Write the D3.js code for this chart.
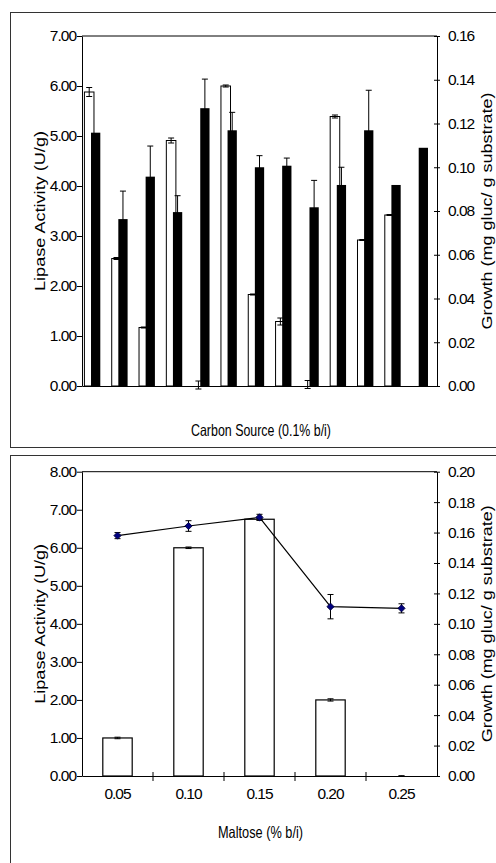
<!DOCTYPE html>
<html><head><meta charset="utf-8">
<script src="https://cdn.jsdelivr.net/npm/d3@7"></script>
<style>
html,body{margin:0;padding:0;background:#fff;}
svg text{font-family:"Liberation Sans",Arial,sans-serif;fill:#000;}
</style></head>
<body><svg id="c" width="496" height="863"></svg>
<script>
// ---------- DATA ----------
const carbonSources = ["S1","S2","S3","S4","S5","S6","S7","S8","S9","S10","S11","S12","S13"];
const lipaseCarbon = [5.88, 2.55, 1.17, 4.91, 0.02, 6.00, 1.83, 1.29, 0.03, 5.39, 2.92, 3.42, 0];
const lipaseCarbonErr = [0.09, 0.02, 0.01, 0.05, 0.08, 0.02, 0.01, 0.07, 0.08, 0.03, 0.01, 0.01, 0];
const growthCarbon = [0.1158, 0.0763, 0.0957, 0.0795, 0.1270, 0.1169, 0.1000, 0.1007, 0.0817, 0.0919, 0.1169, 0.0919, 0.1089];
const growthCarbonErr = [0, 0.0128, 0.0140, 0.0075, 0.0133, 0.0082, 0.0053, 0.0035, 0.0123, 0.0081, 0.0183, 0, 0];

const maltoseLevels = ["0.05","0.10","0.15","0.20","0.25"];
const lipaseMaltose = [1.00, 6.00, 6.75, 2.00, 0];
const lipaseMaltoseErr = [0.02, 0.02, 0.02, 0.03, 0.005];
const growthMaltose = [0.158, 0.1643, 0.170, 0.1113, 0.1102];
const growthMaltoseErr = [0.002, 0.0035, 0.002, 0.008, 0.003];

const leftTicksTop = [0,1,2,3,4,5,6,7];
const rightTicksTop = [0,0.02,0.04,0.06,0.08,0.10,0.12,0.14,0.16];
const leftTicksBottom = [0,1,2,3,4,5,6,7,8];
const rightTicksBottom = [0,0.02,0.04,0.06,0.08,0.10,0.12,0.14,0.16,0.18,0.20];

const yLeftLabel = "Lipase Activity (U/g)";
const yRightLabel = "Growth (mg gluc/ g substrate)";
const xLabelTop = "Carbon Source (0.1% b/i)";
const xLabelBottom = "Maltose (% b/i)";

// ---------- DRAW ----------
const svg = d3.select("#c");
const fmt2 = d3.format(".2f");

// panel frames
svg.append("rect").attr("x",10.5).attr("y",12.5).attr("width",500).attr("height",435)
  .attr("fill","none").attr("stroke","#333");
svg.append("rect").attr("x",10.5).attr("y",455.5).attr("width",500).attr("height",420)
  .attr("fill","none").attr("stroke","#333");

function errBar(g, x, y0, y1, cap, color){
  g.append("line").attr("x1",x).attr("x2",x).attr("y1",y0).attr("y2",y1).attr("stroke",color||"#000").attr("stroke-width",1);
  [y0,y1].forEach(y=>g.append("line").attr("x1",x-cap/2).attr("x2",x+cap/2).attr("y1",y).attr("y2",y).attr("stroke",color||"#000").attr("stroke-width",1));
}

function axes(g, yL, yR, leftTicks, rightTicks, L, R, T, B){
  g.append("line").attr("x1",L).attr("x2",R).attr("y1",T).attr("y2",T).attr("stroke","#000");
  const al = g.append("g").attr("transform",`translate(${L},0)`)
    .call(d3.axisLeft(yL).tickValues(leftTicks).tickFormat(fmt2).tickSize(5).tickSizeOuter(0).tickPadding(1));
  const ar = g.append("g").attr("transform",`translate(${R},0)`)
    .call(d3.axisRight(yR).tickValues(rightTicks).tickFormat(fmt2).tickSize(3).tickSizeOuter(0).tickPadding(8));
  ar.selectAll(".tick line").attr("x1",-3);
  [al,ar].forEach(a=>{
    a.select(".domain").attr("stroke","#000");
    a.selectAll(".tick line").attr("stroke","#000");
    a.selectAll("text").style("font-size","15.5px").style("letter-spacing","-1px")
      .style("font-family","'Liberation Sans',Arial,sans-serif").attr("fill","#000");
  });
  const cy = (T+B)/2;
  g.append("text").attr("transform",`translate(40,${cy}) rotate(-90)`).attr("text-anchor","middle")
    .attr("dy","0.35em").style("font-size","14.5px").attr("textLength",160).attr("lengthAdjust","spacingAndGlyphs")
    .text(yLeftLabel);
  g.append("text").attr("transform",`translate(486.5,${cy}) rotate(-90)`).attr("text-anchor","middle")
    .attr("dy","0.35em").style("font-size","14.5px").attr("textLength",237).attr("lengthAdjust","spacingAndGlyphs")
    .text(yRightLabel);
}

// ---------- TOP CHART ----------
{
  const L=82, R=437, T=36, B=386;
  const g = svg.append("g");
  const x = d3.scaleBand().domain(carbonSources).range([L,R]).padding(0);
  const yL = d3.scaleLinear().domain([0,7]).range([B,T]);
  const yR = d3.scaleLinear().domain([0,0.16]).range([B,T]);
  const bw = x.bandwidth();
  const wx = c => x(c) + bw*0.07, ww = bw*0.35;
  const bx = c => x(c) + bw*0.33, bwid = bw*0.34;

  g.selectAll(".wb").data(carbonSources).join("rect")
    .attr("x",d=>wx(d)+0.5).attr("width",ww)
    .attr("y",(d,i)=>yL(lipaseCarbon[i])).attr("height",(d,i)=>B-yL(lipaseCarbon[i]))
    .attr("fill","#fff").attr("stroke","#000").attr("stroke-width",1)
    .style("display",(d,i)=>lipaseCarbon[i]>0.05?null:"none");
  g.selectAll(".bb").data(carbonSources).join("rect")
    .attr("x",d=>bx(d)).attr("width",bwid)
    .attr("y",(d,i)=>yR(growthCarbon[i])).attr("height",(d,i)=>B-yR(growthCarbon[i]))
    .attr("fill","#000");
  carbonSources.forEach((c,i)=>{
    if(lipaseCarbonErr[i]>0) errBar(g, wx(c)+ww/2+0.5, yL(lipaseCarbon[i]-lipaseCarbonErr[i]), yL(lipaseCarbon[i]+lipaseCarbonErr[i]), 6);
    if(growthCarbonErr[i]>0) errBar(g, bx(c)+bwid/2, yR(growthCarbon[i]-growthCarbonErr[i]), yR(growthCarbon[i]+growthCarbonErr[i]), 6);
  });
  const ax = g.append("g").attr("transform",`translate(0,${B})`)
    .call(d3.axisBottom(x).tickSize(0).tickSizeOuter(0).tickFormat(""));
  ax.select(".domain").attr("stroke","#000");
  axes(g, yL, yR, leftTicksTop, rightTicksTop, L, R, T, B);
  g.append("text").attr("x",261).attr("y",436).attr("text-anchor","middle")
    .style("font-size","16.5px").attr("textLength",140).attr("lengthAdjust","spacingAndGlyphs").text(xLabelTop);
}

// ---------- BOTTOM CHART ----------
{
  const L=82, R=437, T=471.7, B=776;
  const g = svg.append("g");
  const x = d3.scaleBand().domain(maltoseLevels).range([L,R]).padding(0);
  const yL = d3.scaleLinear().domain([0,8]).range([B,T]);
  const yR = d3.scaleLinear().domain([0,0.20]).range([B,T]);
  const bw = x.bandwidth();
  const w = bw*0.414;
  const cx = d => x(d)+bw/2;
  g.selectAll(".wb").data(maltoseLevels).join("rect")
    .attr("x",d=>cx(d)-w/2).attr("width",w)
    .attr("y",(d,i)=>yL(lipaseMaltose[i])).attr("height",(d,i)=>B-yL(lipaseMaltose[i]))
    .attr("fill","#fff").attr("stroke","#000").attr("stroke-width",1.2)
    .style("display",(d,i)=>lipaseMaltose[i]>0?null:"none");
  maltoseLevels.forEach((c,i)=>{
    errBar(g, cx(c), yL(Math.max(0,lipaseMaltose[i]-lipaseMaltoseErr[i])), yL(lipaseMaltose[i]+lipaseMaltoseErr[i]), 6);
  });
  const ax = g.append("g").attr("transform",`translate(0,${B})`)
    .call(d3.axisBottom(x).tickSize(0).tickSizeOuter(0).tickPadding(12).tickFormat(d=>d));
  ax.select(".domain").attr("stroke","#000");
  ax.selectAll("text").style("font-size","15.5px").style("letter-spacing","-1px")
    .style("font-family","'Liberation Sans',Arial,sans-serif").attr("fill","#000");
  maltoseLevels.slice(1).forEach(d=>{
    g.append("line").attr("x1",x(d)).attr("x2",x(d)).attr("y1",B-4).attr("y2",B+5).attr("stroke","#000");
  });
  axes(g, yL, yR, leftTicksBottom, rightTicksBottom, L, R, T, B);
  const line = d3.line().x((d,i)=>cx(maltoseLevels[i])).y(d=>yR(d));
  g.append("path").datum(growthMaltose).attr("d",line).attr("fill","none").attr("stroke","#000").attr("stroke-width",1.2);
  maltoseLevels.forEach((c,i)=>{
    errBar(g, cx(c), yR(growthMaltose[i]-growthMaltoseErr[i]), yR(growthMaltose[i]+growthMaltoseErr[i]), 6);
  });
  g.selectAll(".mk").data(growthMaltose).join("path")
    .attr("d", d3.symbol(d3.symbolSquare, 26)())
    .attr("transform",(d,i)=>`translate(${cx(maltoseLevels[i])},${yR(d)}) rotate(45)`)
    .attr("fill","#000080").attr("stroke","#000033").attr("stroke-width",0.8);
  g.append("text").attr("x",260.5).attr("y",838).attr("text-anchor","middle")
    .style("font-size","16.5px").attr("textLength",85).attr("lengthAdjust","spacingAndGlyphs").text(xLabelBottom);
}
</script>
</body></html>
